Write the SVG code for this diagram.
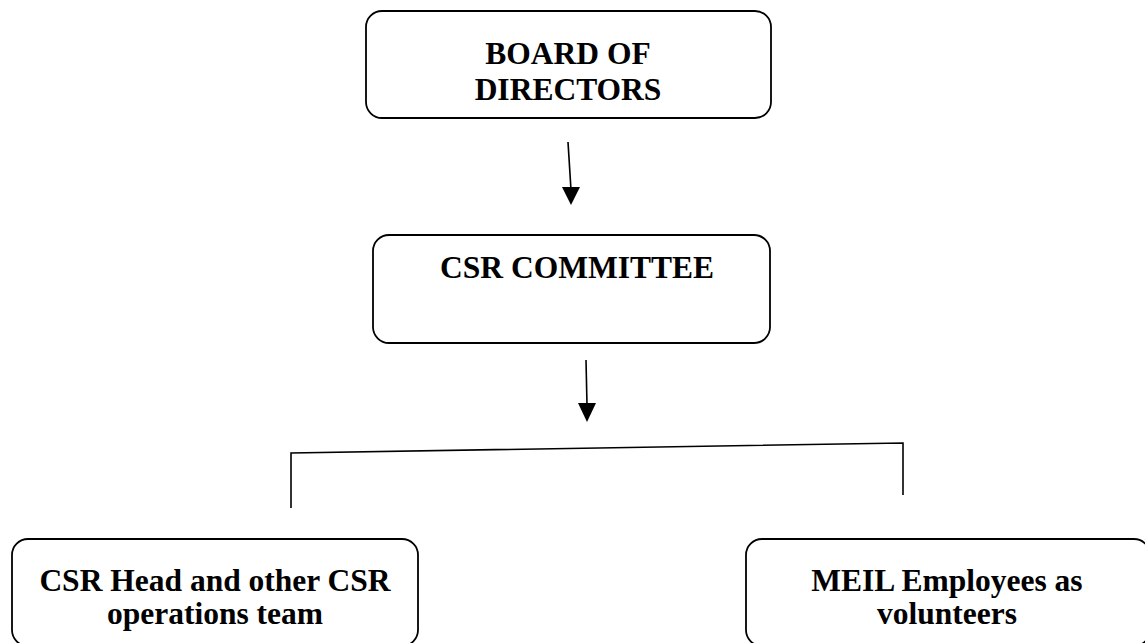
<svg xmlns="http://www.w3.org/2000/svg" width="1145" height="643" viewBox="0 0 1145 643">
<defs>
<style>
.box{fill:#fff;stroke:#000;stroke-width:1.8}
.lbl{font-family:"Liberation Serif","Times New Roman",serif;font-weight:bold;font-size:31.5px;fill:#000;text-anchor:middle}
.ln{fill:none;stroke:#000;stroke-width:1.6}
.head{fill:#000}
</style>
</defs>
<rect width="1145" height="643" fill="#fff"/>
<g id="connectors">
<line class="ln" x1="568" y1="142" x2="571" y2="190"/>
<path class="head" d="M562,187 L580,187 L571,205 Z"/>
<line class="ln" x1="586" y1="360" x2="587" y2="405"/>
<path class="head" d="M578,403 L596,403 L587,422 Z"/>
<polyline class="ln" points="291,508 291,453 903,443 903,495"/>
</g>
<g id="board">
<rect class="box" x="366" y="11" width="405" height="107" rx="16"/>
<text class="lbl" x="568" y="64">BOARD OF</text>
<text class="lbl" x="568" y="100">DIRECTORS</text>
</g>
<g id="committee">
<rect class="box" x="373" y="235" width="397" height="108" rx="16"/>
<text class="lbl" x="577" y="278">CSR COMMITTEE</text>
</g>
<g id="csr-head">
<rect class="box" x="12" y="539" width="406" height="107" rx="16"/>
<text class="lbl" x="215" y="591">CSR Head and other CSR</text>
<text class="lbl" x="215" y="624">operations team</text>
</g>
<g id="meil">
<rect class="box" x="746" y="539" width="404" height="107" rx="16"/>
<text class="lbl" x="947" y="591">MEIL Employees as</text>
<text class="lbl" x="947" y="624">volunteers</text>
</g>
</svg>
